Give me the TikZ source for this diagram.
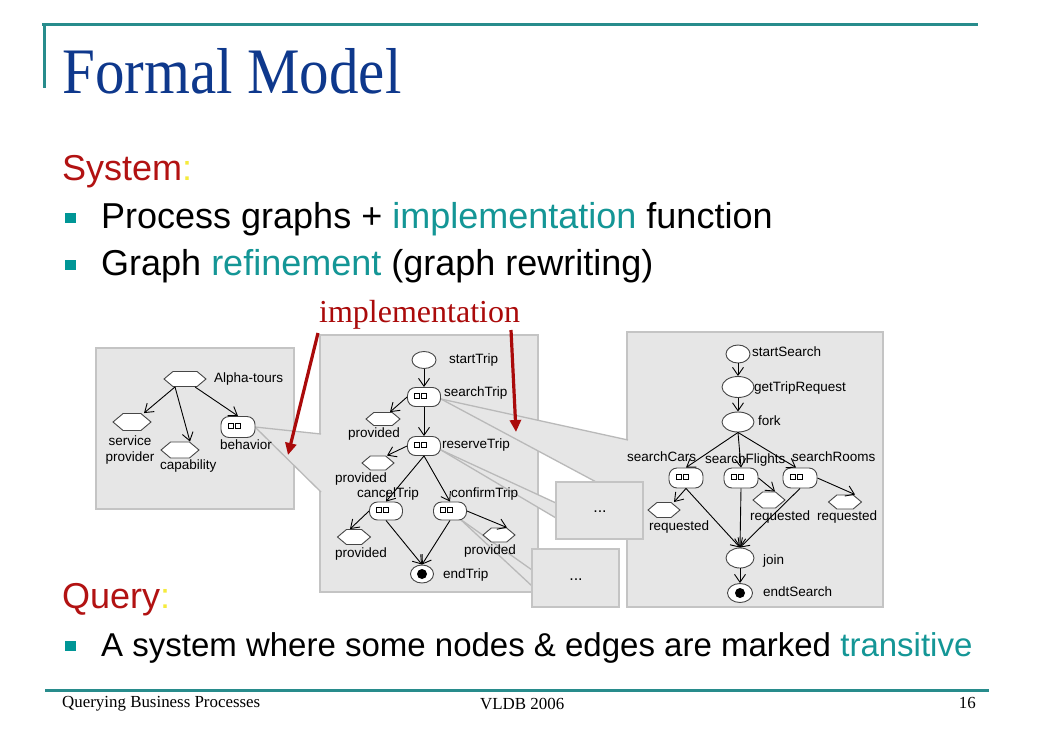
\documentclass[tikz,border=0pt]{standalone}
\usepackage{fontspec}
\usepackage{graphicx}
\setmainfont{Liberation Serif}
\newfontfamily\arial{Liberation Sans}
\usetikzlibrary{shapes.geometric,shapes.symbols,shapes.misc,arrows.meta,calc}
\definecolor{titleblue}{RGB}{14,56,140}
\definecolor{tealrule}{RGB}{40,140,140}
\definecolor{tealbul}{RGB}{0,150,150}
\definecolor{tealtxt}{RGB}{20,150,150}
\definecolor{sysred}{RGB}{178,18,18}
\definecolor{colyel}{RGB}{245,235,60}
\definecolor{arrowred}{RGB}{170,10,10}
\definecolor{panelfill}{RGB}{230,230,230}
\definecolor{panelline}{RGB}{196,196,196}
\definecolor{funline}{RGB}{185,185,185}
\definecolor{nodeline}{RGB}{70,70,70}
\begin{document}
\begin{tikzpicture}[x=1pt,y=-1pt,
  panel/.style={fill=panelfill, draw=panelline, line width=1.5pt},
  fline/.style={draw=funline, line width=1.3pt},
  hexn/.style={signal, signal to=east and west, signal pointer angle=80, draw=nodeline, fill=white, line width=0.9pt, inner sep=0pt, minimum width=33pt, minimum height=14pt},
  stad/.style={rectangle, rounded corners=8pt, draw=nodeline, fill=white, line width=0.9pt, minimum width=33pt, minimum height=19pt, inner sep=0pt,
    path picture={\draw[black, line width=0.8pt, sharp corners] ([shift={(-9.5pt,-1.5pt)}]path picture bounding box.center) rectangle +(5pt,5pt);
                  \draw[black, line width=0.8pt, sharp corners] ([shift={(-3pt,-1.5pt)}]path picture bounding box.center) rectangle +(5pt,5pt);}},
  ell/.style={ellipse, draw=nodeline, fill=white, line width=0.9pt, inner sep=0pt},
  dotell/.style={ell, path picture={\fill[black] (path picture bounding box.center) circle (5pt);}},
  arr/.style={draw=black, line width=0.9pt, -{Straight Barb[length=8pt,width=11pt]}},
  lbl/.style={font=\arial\fontsize{13.5}{15}\selectfont, inner sep=0pt, anchor=west, text height=9.5pt, text depth=3pt},
  redarr/.style={draw=arrowred, line width=3.2pt, -{Triangle[length=12pt,width=11pt]}},
  rule/.style={draw=tealrule, line width=3pt},
  bigtxt/.style={anchor=base west, inner sep=0pt, font=\arial\fontsize{36}{40}\selectfont},
  foot/.style={inner sep=0pt, font=\fontsize{16.9}{18}\selectfont},
  dotsty/.style={font=\arial\fontsize{16}{18}\selectfont, inner sep=0pt}
]
\fill[white] (0,0) rectangle (1038,734);
\useasboundingbox (0,0) rectangle (1038,734);

% rules
\draw[rule] (42,24) -- (978,24);
\draw[rule] (44,24) -- (44,88);
\draw[rule] (45,690) -- (989,690);

% texts
\node[anchor=base west, inner sep=0pt, text=titleblue, font=\fontsize{59}{60}\selectfont] (title) at (62,93) {\scalebox{1}[1.1]{Formal Model}};
\node[bigtxt, text=sysred] (sys) at (62,180) {System\textcolor{colyel}{:}};
\fill[tealbul] (65,213) rectangle (76,223);
\node[bigtxt] (b1) at (101,228) {Process graphs + \textcolor{tealtxt}{implementation} function};
\fill[tealbul] (65,260) rectangle (76,270);
\node[bigtxt] (b2) at (101,275) {Graph \textcolor{tealtxt}{refinement} (graph rewriting)};
\node[anchor=base west, inner sep=0pt, text=arrowred, font=\fontsize{32}{34}\selectfont] (impl) at (319,322) {implementation};
\node[bigtxt, text=sysred] (query) at (62,608) {Query\textcolor{colyel}{:}};
\fill[tealbul] (65,641) rectangle (76,651);
\node[bigtxt, font=\arial\fontsize{33}{36}\selectfont] (b3) at (101,656) {A system where some nodes \& edges are marked \textcolor{tealtxt}{transitive}};
\node[foot, anchor=base west] (f1) at (62,707) {Querying Business Processes};
\node[foot, anchor=base west] (f2) at (480,709) {VLDB 2006};
\node[foot, anchor=base east] (f3) at (976,708) {16};

% panels
\draw[panel] (96,348) rectangle (294,509);
\draw[panel] (320,335) rectangle (538,592);
\draw[panel] (627,332) rectangle (883,607);

% funnels
\coordinate (fa1) at (255,427); \coordinate (fu1) at (321,434); \coordinate (fd1) at (321,492);
\fill[panelfill] (fa1) -- (fu1) -- (fd1) -- cycle;
\draw[fline] (fa1) -- (fu1); \draw[fline] (fa1) -- (fd1);
\coordinate (fa2) at (441,399); \coordinate (fu2) at (628,440); \coordinate (fd2) at (628,499);
\fill[panelfill] (fa2) -- (fu2) -- (fd2) -- cycle;
\draw[fline] (fa2) -- (fu2); \draw[fline] (fa2) -- (fd2);
\coordinate (fa3) at (441,450); \coordinate (fu3) at (556,503); \coordinate (fd3) at (556,518);
\fill[panelfill] (fa3) -- (fu3) -- (fd3) -- cycle;
\draw[fline] (fa3) -- (fu3); \draw[fline] (fa3) -- (fd3);
\draw[panel] (556,482) rectangle (643,539);
\node[dotsty] (dots1) at (600,512) {...};
\coordinate (fa4) at (460,519); \coordinate (fu4) at (532,570); \coordinate (fd4) at (532,586);
\fill[panelfill] (fa4) -- (fu4) -- (fd4) -- cycle;
\draw[fline] (fa4) -- (fu4); \draw[fline] (fa4) -- (fd4);
\draw[panel] (532,549) rectangle (619,607);
\node[dotsty] (dots2) at (576,580) {...};

% left panel nodes
\node[hexn, minimum width=42pt, minimum height=15pt] (alpha) at (185,379) {};
\node[hexn, minimum width=38pt, minimum height=17pt] (sp) at (132,422) {};
\node[hexn, minimum width=38pt, minimum height=16pt] (cap) at (180,450) {};
\node[stad, minimum width=34pt, minimum height=21pt] (beh) at (238,427) {};
\node[lbl] (lalpha) at (214,379) {Alpha-tours};
\node[lbl, anchor=center, align=center, text height=, text depth=, font=\arial\fontsize{13.5}{15.5}\selectfont] (lsp) at (130,450) {service\\provider};
\node[lbl] (lcap) at (160,466) {capability};
\node[lbl] (lbeh) at (220,446) {behavior};
\draw[arr] ([xshift=-10pt]alpha.south) -- ([xshift=12pt]sp.north);
\draw[arr] ([xshift=-10pt]alpha.south) -- ([xshift=10pt]cap.north);
\draw[arr] ([xshift=10pt]alpha.south) -- (beh.north);

% middle panel nodes
\node[ell, minimum width=24pt, minimum height=17pt] (st) at (424,360) {};
\node[stad] (sT) at (424,397) {};
\node[hexn, minimum width=34pt, minimum height=13pt] (p1) at (383,419) {};
\node[stad] (rT) at (424,446) {};
\node[hexn, minimum width=32pt, minimum height=14pt] (p2) at (378,463) {};
\node[stad, minimum height=18pt] (cT) at (386,511) {};
\node[stad, minimum height=18pt] (coT) at (450,511) {};
\node[hexn, minimum width=33pt, minimum height=15pt] (p3) at (354,537) {};
\node[hexn, minimum width=32pt, minimum height=14pt] (p4) at (499,535) {};
\node[dotell, minimum width=23pt, minimum height=18pt] (eT) at (422,574) {};
\node[lbl] (lst) at (449,360) {startTrip};
\node[lbl] (lsT) at (444,393) {searchTrip};
\node[lbl] (lp1) at (348,434) {provided};
\node[lbl] (lrT) at (442,445) {reserveTrip};
\node[lbl] (lp2) at (335,479) {provided};
\node[lbl] (lcT) at (357,494) {cancelTrip};
\node[lbl] (lcoT) at (451,494) {confirmTrip};
\node[lbl] (lp3) at (335,554) {provided};
\node[lbl] (lp4) at (464,551) {provided};
\node[lbl] (leT) at (443,575) {endTrip};
\draw[arr] (st.south) -- (sT.north);
\draw[arr] (sT.west) -- ([xshift=7pt]p1.north);
\draw[arr] (sT.south) -- (rT.north);
\draw[arr] (rT.west) -- ([xshift=9pt]p2.north);
\draw[arr] (rT.south) -- (cT.north);
\draw[arr] (rT.south) -- (coT.north);
\draw[arr] (cT.west) -- ([xshift=-4pt]p3.north);
\draw[arr] (coT.east) -- ([xshift=8pt]p4.north);
\draw[arr] (cT.south) -- (eT.north);
\draw[arr] (coT.south) -- (eT.north);

% right panel nodes
\node[ell, minimum width=24pt, minimum height=18pt] (sS) at (738,354) {};
\node[ell, minimum width=32pt, minimum height=21pt] (gTR) at (738,387) {};
\node[ell, minimum width=32pt, minimum height=20pt] (fork) at (738,422) {};
\node[stad, minimum width=34pt, minimum height=20pt] (sC) at (686,478) {};
\node[stad, minimum width=34pt, minimum height=20pt] (sF) at (741,478) {};
\node[stad, minimum width=34pt, minimum height=20pt] (sR) at (800,478) {};
\node[hexn, minimum width=32pt, minimum height=15pt] (r1) at (664,510) {};
\node[hexn, minimum width=32pt, minimum height=16pt] (r2) at (769,500) {};
\node[hexn, minimum width=33pt, minimum height=14pt] (r3) at (845,502) {};
\node[ell, minimum width=28pt, minimum height=20pt] (join) at (740,558) {};
\node[dotell, minimum width=25pt, minimum height=19pt] (eS) at (740,593) {};
\node[lbl] (lsS) at (752,353) {startSearch};
\node[lbl] (lgTR) at (754,388) {getTripRequest};
\node[lbl] (lfork) at (758,422) {fork};
\node[lbl] (lsC) at (627,458) {searchCars};
\node[lbl] (lsF) at (705,460) {searchFlights};
\node[lbl] (lsR) at (792,458) {searchRooms};
\node[lbl] (lr1) at (649,527) {requested};
\node[lbl] (lr2) at (750,517) {requested};
\node[lbl] (lr3) at (817,517) {requested};
\node[lbl] (ljoin) at (763,561) {join};
\node[lbl] (leS) at (763,593) {endtSearch};
\draw[arr] (sS.south) -- (gTR.north);
\draw[arr] (gTR.south) -- (fork.north);
\draw[arr] (fork.south) -- (sC.north);
\draw[arr] (fork.south) -- (sF.north);
\draw[arr] (fork.south) -- ([xshift=-4pt]sR.north);
\draw[arr] (sC.south) -- ([xshift=10pt]r1.north);
\draw[arr] (sF.east) -- ([xshift=6pt]r2.north);
\draw[arr] (sR.east) -- ([xshift=10pt]r3.north);
\draw[arr] (sC.south) -- (join.north);
\draw[arr] (sF.south) -- (join.north);
\draw[arr] (sR.south) -- (join.north);
\draw[arr] (join.south) -- (eS.north);

% red arrows
\coordinate (ra1) at (318,333); \coordinate (rb1) at (288,455);
\coordinate (ra2) at (511,330); \coordinate (rb2) at (516,432);
\draw[redarr] (ra1) -- (rb1);
\draw[redarr] (ra2) -- (rb2);
\end{tikzpicture}
\end{document}
